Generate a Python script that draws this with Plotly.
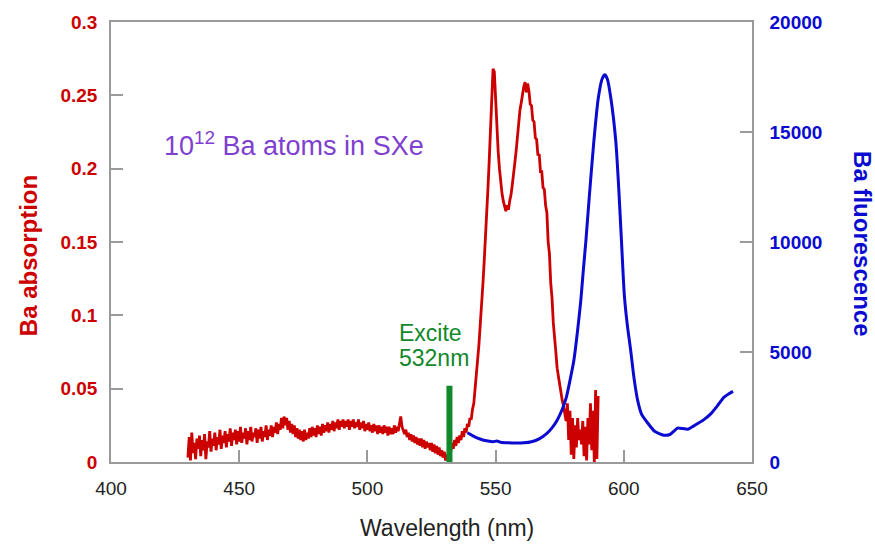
import plotly.graph_objects as go

# Ba absorption spectrum in solid xenon (left axis), sampled every 0.5 nm from 430 nm
abs_start_nm = 430.0
abs_step_nm = 0.5
abs_val = [
    0.003, 0.017, 0.001, 0.020, 0.006, 0.013, 0.002, 0.016, 0.009, 0.018,  # 430
    0.004, 0.015, 0.008, 0.019, 0.002, 0.014, 0.010, 0.021, 0.007, 0.016,  # 435
    0.011, 0.020, 0.008, 0.017, 0.012, 0.022, 0.009, 0.018, 0.013, 0.021,  # 440
    0.010, 0.019, 0.014, 0.023, 0.011, 0.020, 0.015, 0.022, 0.012, 0.021,  # 445
    0.014, 0.024, 0.013, 0.020, 0.016, 0.023, 0.012, 0.021, 0.015, 0.024,  # 450
    0.014, 0.020, 0.017, 0.023, 0.013, 0.022, 0.016, 0.024, 0.014, 0.021,  # 455
    0.017, 0.025, 0.015, 0.022, 0.018, 0.025, 0.017, 0.024, 0.020, 0.027,  # 460
    0.019, 0.026, 0.022, 0.030, 0.023, 0.031, 0.025, 0.030, 0.022, 0.028,  # 465
    0.020, 0.026, 0.019, 0.025, 0.017, 0.023, 0.016, 0.022, 0.015, 0.021,  # 470
    0.014, 0.022, 0.015, 0.020, 0.016, 0.023, 0.017, 0.024, 0.018, 0.023,  # 475
    0.017, 0.025, 0.019, 0.024, 0.018, 0.026, 0.020, 0.025, 0.021, 0.027,  # 480
    0.020, 0.026, 0.022, 0.028, 0.021, 0.027, 0.023, 0.029, 0.022, 0.028,  # 485
    0.024, 0.029, 0.023, 0.028, 0.024, 0.029, 0.022, 0.028, 0.024, 0.029,  # 490
    0.023, 0.027, 0.024, 0.029, 0.022, 0.027, 0.023, 0.028, 0.021, 0.026,  # 495
    0.022, 0.027, 0.021, 0.025, 0.020, 0.026, 0.021, 0.025, 0.019, 0.025,  # 500
    0.020, 0.024, 0.019, 0.025, 0.020, 0.024, 0.018, 0.024, 0.019, 0.023,  # 505
    0.019, 0.025, 0.020, 0.024, 0.021, 0.026, 0.031, 0.024, 0.022, 0.019,  # 510
    0.022, 0.017, 0.020, 0.015, 0.019, 0.014, 0.018, 0.013, 0.017, 0.012,  # 515
    0.016, 0.011, 0.016, 0.010, 0.015, 0.009, 0.014, 0.010, 0.013, 0.008,  # 520
    0.013, 0.007, 0.012, 0.006, 0.011, 0.005, 0.010, 0.004, 0.008, 0.003,  # 525
    0.007, 0.001, 0.005, 0.002, 0.009, 0.007, 0.013, 0.009, 0.015, 0.011,  # 530
    0.017, 0.013, 0.018, 0.015, 0.021, 0.017, 0.023, 0.020, 0.026, 0.024,  # 535
    0.030, 0.029, 0.036, 0.040, 0.050, 0.058, 0.070, 0.080, 0.092, 0.105,  # 540
    0.120, 0.135, 0.150, 0.168, 0.186, 0.205, 0.228, 0.252, 0.268, 0.266,  # 545
    0.245, 0.228, 0.212, 0.200, 0.190, 0.183, 0.178, 0.174, 0.171, 0.175,  # 550
    0.172, 0.178, 0.182, 0.189, 0.195, 0.204, 0.212, 0.222, 0.230, 0.240,  # 555
    0.245, 0.252, 0.256, 0.259, 0.252, 0.258, 0.253, 0.244, 0.243, 0.233,  # 560
    0.232, 0.221, 0.220, 0.209, 0.210, 0.198, 0.198, 0.187, 0.186, 0.175,  # 565
    0.170, 0.150, 0.142, 0.122, 0.112, 0.095, 0.082, 0.075, 0.064, 0.058,  # 570
    0.052, 0.046, 0.042, 0.038, 0.034, 0.028, 0.040, 0.015, 0.035, 0.005,  # 575
    0.030, 0.002, 0.025, 0.010, 0.030, 0.015, 0.022, 0.012, 0.028, 0.004,  # 580
    0.024, 0.001, 0.030, 0.012, 0.040, 0.008, 0.035, 0.000, 0.049, 0.002,  # 585
    0.045,                                                                 # 590
]
abs_nm = [abs_start_nm + abs_step_nm * i for i in range(len(abs_val))]

# Ba fluorescence spectrum (right axis)
fl_nm = [
    539, 541, 543, 545, 547, 549, 550.5, 552, 555, 558, 561, 564, 567, 570, 572, 574, 576,
    577.5, 579, 580.5, 582, 583.2, 584.2, 585.2, 586.5, 588.3, 590, 591.5, 592.6, 593.6, 595,
    596.9, 598, 599.1, 600.2, 601.4, 602.7, 604, 605.4, 607, 609.4, 612, 615.6, 618, 621, 623,
    625, 627, 629, 631.5, 634, 636.5, 639, 641, 642.6,
]
fl_val = [
    1330, 1200, 1080, 1000, 950, 920, 960, 900, 870, 860, 870, 920, 1050, 1300, 1550, 1900,
    2400, 2900, 3700, 4600, 6000, 7300, 8700, 10030, 12000, 14550, 16500, 17400, 17600, 17400,
    16500, 14550, 12500, 10030, 7600, 6200, 5060, 3800, 2800, 2150, 1760, 1400, 1220, 1250,
    1540, 1520, 1490, 1620, 1760, 1950, 2200, 2550, 2940, 3100, 3210,
]

# Excitation laser wavelength
excite_nm = 532
excite_height = 0.052

x_ticks = [400, 450, 500, 550, 600, 650]
abs_ticks = [0, 0.05, 0.1, 0.15, 0.2, 0.25, 0.3]
abs_tick_text = ["0", "0.05", "0.1", "0.15", "0.2", "0.25", "0.3"]
fl_ticks = [0, 5000, 10000, 15000, 20000]
fl_tick_text = ["0", "5000", "10000", "15000", "20000"]

RED = "#cc0000"
BLUE = "#0a0ad0"
GREEN = "#11882a"
PURPLE = "#7f3fd0"
GREY = "#9a9a9a"
FONT = "Liberation Sans, Arial, Helvetica, sans-serif"

fig = go.Figure()
fig.add_trace(go.Scatter(x=abs_nm, y=abs_val, mode="lines",
                         line=dict(color=RED, width=2.8), yaxis="y", showlegend=False))
fig.add_trace(go.Scatter(x=fl_nm, y=fl_val, mode="lines",
                         line=dict(color=BLUE, width=3, shape="spline", smoothing=0.6),
                         yaxis="y2", showlegend=False))
fig.add_trace(go.Scatter(x=[excite_nm, excite_nm], y=[-0.002, excite_height], mode="lines",
                         line=dict(color=GREEN, width=6), yaxis="y", showlegend=False,
                         cliponaxis=False))

fig.update_layout(
    width=875, height=548,
    margin=dict(l=111, r=123, t=19, b=86),
    paper_bgcolor="white", plot_bgcolor="white",
    font=dict(family=FONT),
    xaxis=dict(range=[400, 650], tickvals=x_ticks, ticks="inside", ticklen=12,
               tickcolor=GREY, tickwidth=1.5, showline=True, linecolor=GREY, linewidth=1.5,
               mirror=True, showgrid=False, zeroline=False,
               tickfont=dict(size=19, color="#222222"), ticklabelstandoff=8),
    yaxis=dict(range=[0, 0.3], tickvals=abs_ticks, ticktext=abs_tick_text, ticks="inside",
               ticklen=12, tickcolor=GREY, tickwidth=1.5, showline=True, linecolor=GREY,
               linewidth=1.5, showgrid=False, zeroline=False,
               tickfont=dict(size=19, color=RED, weight="bold"), ticklabelstandoff=8),
    yaxis2=dict(range=[0, 20000], tickvals=fl_ticks, ticktext=fl_tick_text,
                overlaying="y", side="right",
                ticks="inside", ticklen=12, tickcolor=GREY, tickwidth=1.5, showline=True,
                linecolor=GREY, linewidth=1.5, showgrid=False, zeroline=False,
                tickfont=dict(size=19, color=BLUE, weight="bold"), ticklabelstandoff=12),
    annotations=[
        dict(text="Ba absorption", xref="paper", yref="paper", x=-0.1295, y=0.47,
             textangle=-90, showarrow=False, xanchor="center", yanchor="middle",
             font=dict(size=24, color=RED, weight="bold")),
        dict(text="Ba fluorescence", xref="paper", yref="paper", x=1.172, y=0.497,
             textangle=90, showarrow=False, xanchor="center", yanchor="middle",
             font=dict(size=24, color=BLUE, weight="bold")),
        dict(text="Wavelength (nm)", xref="paper", yref="paper", x=0.524, y=-0.149,
             showarrow=False, xanchor="center", yanchor="middle",
             font=dict(size=23, color="#222222")),
        dict(text="10<sup>12</sup> Ba atoms in SXe", xref="paper", yref="paper",
             x=0.0796, y=0.723, showarrow=False, xanchor="left", yanchor="middle",
             font=dict(size=27, color=PURPLE)),
        dict(text="Excite", xref="paper", yref="paper", x=0.446, y=0.294,
             showarrow=False, xanchor="left", yanchor="middle",
             font=dict(size=23, color=GREEN)),
        dict(text="532nm", xref="paper", yref="paper", x=0.446, y=0.237,
             showarrow=False, xanchor="left", yanchor="middle",
             font=dict(size=23, color=GREEN)),
    ],
)

fig.write_html("out.html")
